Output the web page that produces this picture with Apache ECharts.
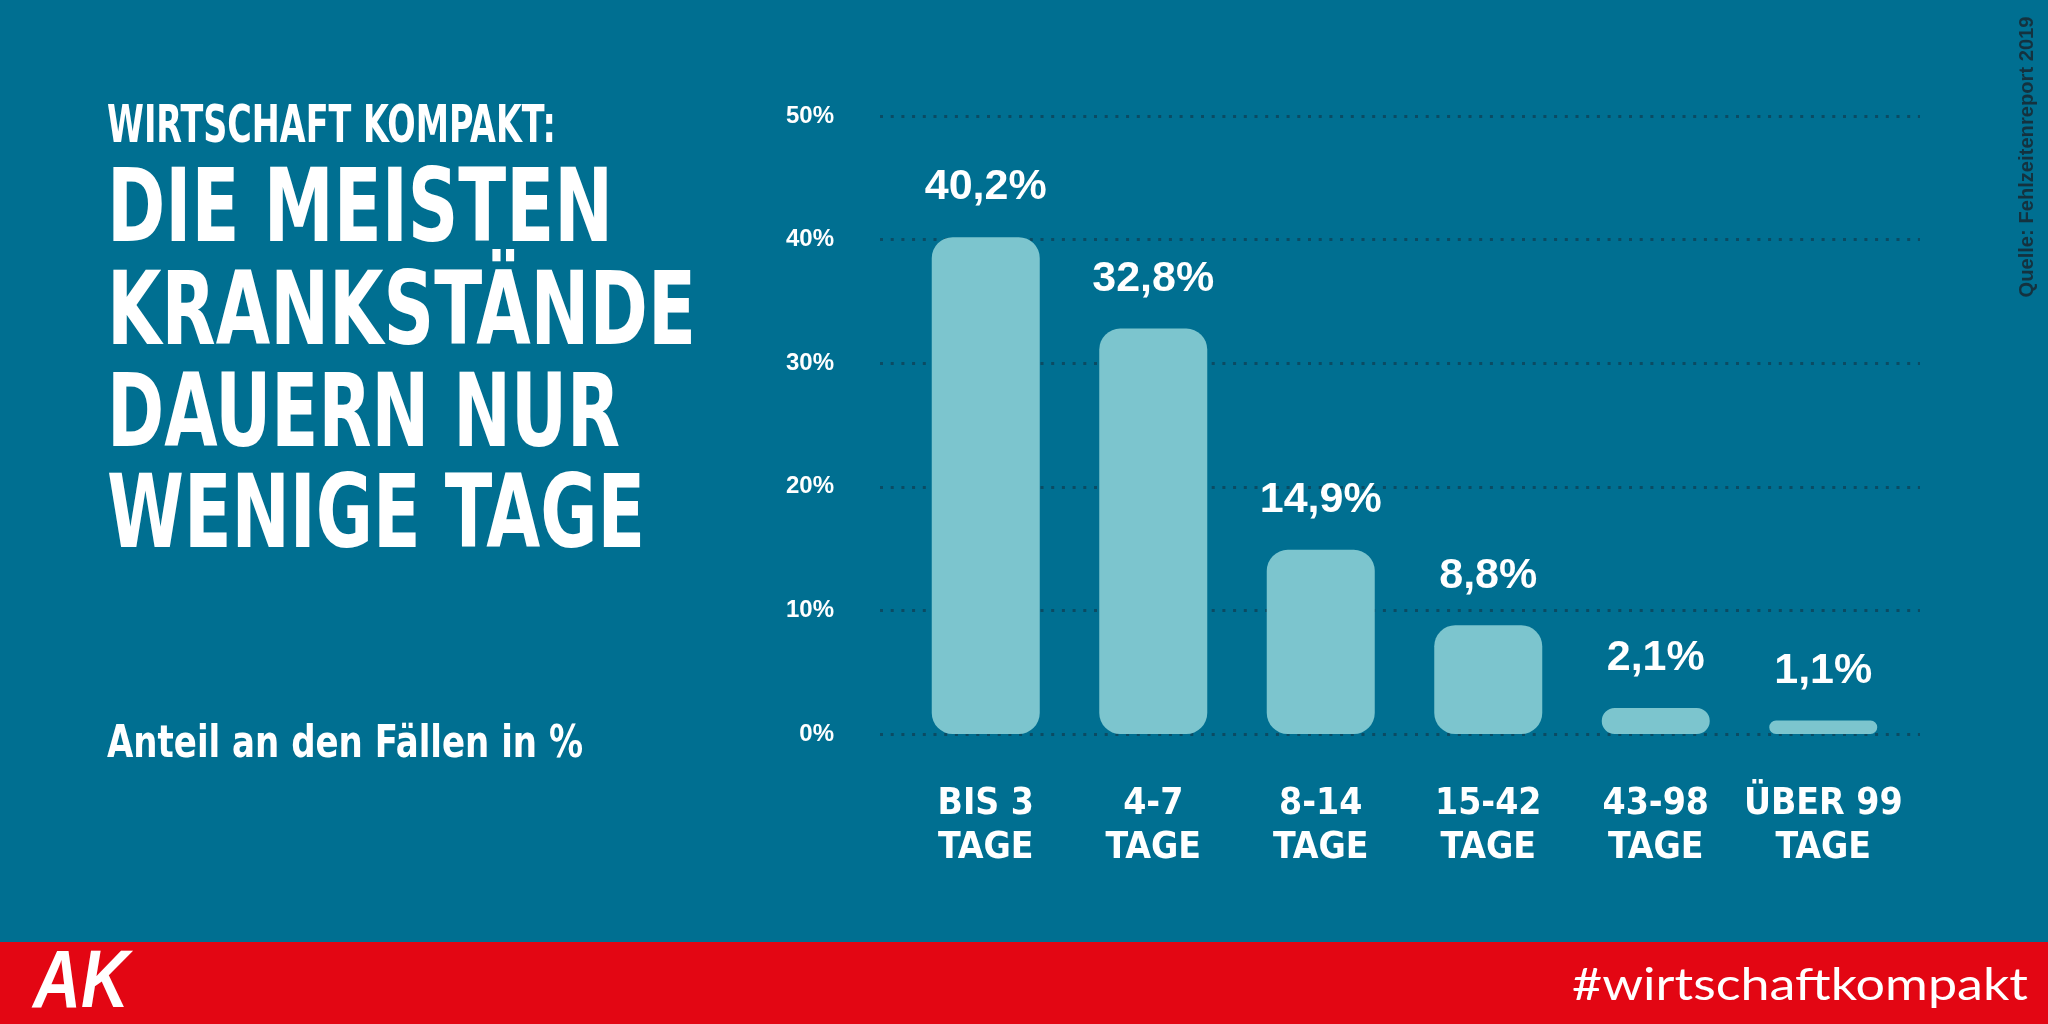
<!DOCTYPE html>
<html>
<head>
<meta charset="utf-8">
<script src="https://cdn.jsdelivr.net/npm/echarts@6/dist/echarts.min.js"></script>
<style>
html,body{margin:0;padding:0;background:#006f91;}
#c{width:2048px;height:1024px;}
</style>
</head>
<body>
<div id="c"></div>
<script>
const categories = ['BIS 3\nTAGE', '4-7\nTAGE', '8-14\nTAGE', '15-42\nTAGE', '43-98\nTAGE', 'ÜBER 99\nTAGE'];
const values = [40.2, 32.8, 14.9, 8.8, 2.1, 1.1];
const yMin = 0, yMax = 50, yStep = 10;
const kicker = 'WIRTSCHAFT KOMPAKT:';
const headline = ['DIE MEISTEN', 'KRANKSTÄNDE', 'DAUERN NUR', 'WENIGE TAGE'];
const subtitle = 'Anteil an den Fällen in %';
const source = 'Quelle: Fehlzeitenreport 2019';
const hashtag = '#wirtschaftkompakt';
const logo = 'AK';

const BG = '#006f91', BAR = '#7cc5ce', RED = '#e30613', WHITE = '#ffffff';
const COND = "'Liberation Sans Narrow', 'DejaVu Sans Condensed', sans-serif";

const mctx = document.createElement('canvas').getContext('2d');
function fitScale(text, font, target) {
  mctx.font = font;
  const w = mctx.measureText(text).width;
  return w > 0 ? target / w : 1;
}
function fitText(text, x, yMid, size, weight, family, targetW, color, extra) {
  const font = weight + ' ' + size + 'px ' + family;
  const s = fitScale(text, font, targetW);
  return Object.assign({
    type: 'text', x: x, y: yMid, scaleX: s, originX: 0, originY: 0,
    style: { text: text, font: font, fill: color, align: 'left', verticalAlign: 'middle',
             textAlign: 'left', textVerticalAlign: 'middle' },
    z: 10
  }, extra || {});
}

const headMids = [214, 317, 419, 520];
const headWidths = [506, 589, 513, 538];
const graphics = [
  { type: 'rect', shape: { x: 0, y: 942, width: 2048, height: 82 }, style: { fill: RED }, z: 1 },
  fitText(kicker, 107, 129, 51, 'bold', COND, 449, WHITE),
  fitText(subtitle, 107, 745, 45, 'bold', COND, 476, WHITE),
  fitText(hashtag, 1572, 985, 45, 'normal', "Lato, 'Open Sans', sans-serif", 456, WHITE),
  fitText(logo, 33, 984, 82, 'italic bold', "'Liberation Sans', Arial, sans-serif", 96, WHITE),
];
headline.forEach((t, i) => graphics.push(fitText(t, 107, headMids[i], 102, 'bold', COND, headWidths[i], WHITE)));
(function () {
  const font = 'bold 20px ' + "'Liberation Sans', 'DejaVu Sans', sans-serif";
  const s = fitScale(source, font, 281);
  graphics.push({
    type: 'text', x: 2027, y: 157, rotation: Math.PI / 2, scaleX: s,
    style: { text: source, font: font, fill: '#14323f', align: 'center', verticalAlign: 'middle',
             textAlign: 'center', textVerticalAlign: 'middle' },
    z: 10
  });
})();

const chart = echarts.init(document.getElementById('c'), null, { renderer: 'canvas' });
chart.setOption({
  backgroundColor: BG,
  animation: false,
  grid: [
    { left: 880, right: 128, top: 116, bottom: 290 },
    { left: 902, right: 141, top: 116, bottom: 290 }
  ],
  xAxis: [
    { gridIndex: 0, type: 'value', min: 0, max: 1, show: false },
    {
      gridIndex: 1, type: 'category', data: categories,
      axisLine: { show: false }, axisTick: { show: false },
      axisLabel: {
        color: WHITE, fontFamily: COND, fontWeight: 'bold', fontSize: 37, lineHeight: 44,
        margin: 48, interval: 0
      }
    }
  ],
  yAxis: [
    {
      gridIndex: 0, type: 'value', min: yMin, max: yMax, interval: yStep,
      axisLine: { show: false }, axisTick: { show: false },
      axisLabel: {
        formatter: '{value}%', color: WHITE, fontFamily: "'Liberation Sans', sans-serif",
        fontWeight: 'bold', fontSize: 24, margin: 46
      },
      splitLine: { show: true, lineStyle: { color: '#0b4b63', width: 3, type: [3, 7.7] } }
    },
    {
      gridIndex: 1, type: 'value', min: yMin, max: yMax, interval: yStep, show: false,
      splitLine: { show: false }
    }
  ],
  series: [{
    type: 'bar', xAxisIndex: 1, yAxisIndex: 1, data: values, barWidth: 108,
    itemStyle: { color: BAR, borderRadius: 21 },
    label: {
      show: true, position: 'top', distance: 28, color: WHITE,
      fontFamily: "'Liberation Sans', sans-serif", fontWeight: 'bold', fontSize: 43, lineHeight: 43,
      formatter: p => p.value.toFixed(1).replace('.', ',') + '%'
    }
  }],
  graphic: { elements: graphics }
});
</script>
</body>
</html>
